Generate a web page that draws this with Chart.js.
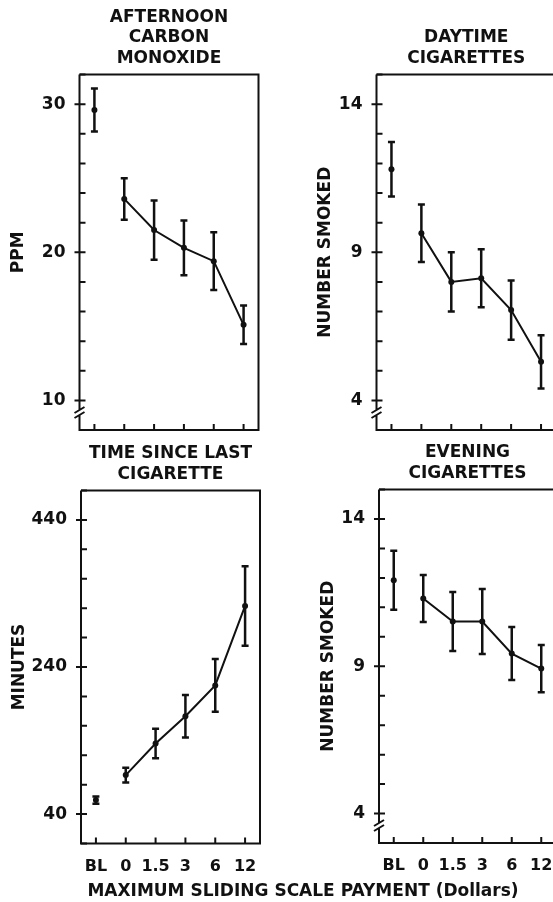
<!DOCTYPE html>
<html>
<head>
<meta charset="utf-8">
<script src="https://cdn.jsdelivr.net/npm/chart.js@4.4.0/dist/chart.umd.min.js"></script>
<style>
  html, body { margin: 0; padding: 0; background: #fff; overflow: hidden; }
  #page { position: relative; width: 553px; height: 902px; overflow: hidden; }
  canvas { position: absolute; }
  #xtitle {
    position: absolute; left: 303px; top: 880px; transform: translateX(-50%);
    font: bold 17px "DejaVu Sans", sans-serif; line-height: 20px;
    white-space: nowrap; color: #111;
  }
</style>
</head>
<body>
<div id="page">
  <canvas id="time" width="276" height="462" style="left:0;top:440px"></canvas>
  <canvas id="eve" width="284" height="462" style="left:276px;top:440px"></canvas>
  <canvas id="co" width="276" height="456" style="left:0;top:0"></canvas>
  <canvas id="day" width="284" height="456" style="left:276px;top:0"></canvas>
  <div id="xtitle">MAXIMUM SLIDING SCALE PAYMENT (Dollars)</div>
</div>
<script>
// --- data (BL = baseline, then max sliding-scale payment in dollars) ---
const doseLabels = ['BL', '0', '1.5', '3', '6', '12'];

const coMean = [29.6, 23.6, 21.5, 20.3, 19.4, 15.1];
const coErr  = [1.45, 1.4, 2.0, 1.85, 1.95, 1.3];
const coTickLabels = [10, 20, 30];

const dayMean = [11.8, 9.64, 8.0, 8.12, 7.05, 5.3];
const dayErr  = [0.92, 0.97, 1.0, 0.98, 1.0, 0.9];

const timeMean = [59, 93, 136, 173, 215, 323];
const timeErr  = [5, 10, 20, 29, 36, 54];
const timeTickLabels = [40, 240, 440];

const eveMean = [11.92, 11.3, 10.52, 10.52, 9.43, 8.92];
const eveErr  = [1.0, 0.8, 1.0, 1.1, 0.9, 0.8];
const cigTickLabels = [4, 9, 14];

const INK = '#111';
const FAMILY = '"DejaVu Sans", sans-serif';

// error bars drawn from the y scale
const errorBars = {
    id: 'errorBars',
    afterDatasetsDraw(chart) {
        const {ctx, scales: {x, y}} = chart;
        ctx.save();
        ctx.strokeStyle = INK;
        ctx.lineWidth = 2.5;
        chart.data.datasets.forEach(ds => {
            ds.data.forEach((v, i) => {
                if (v == null) return;
                const px = x.getPixelForValue(i);
                const hi = y.getPixelForValue(v + ds.errors[i]);
                const lo = y.getPixelForValue(v - ds.errors[i]);
                ctx.beginPath();
                ctx.moveTo(px, hi); ctx.lineTo(px, lo);
                ctx.moveTo(px - 3.5, hi); ctx.lineTo(px + 3.5, hi);
                ctx.moveTo(px - 3.5, lo); ctx.lineTo(px + 3.5, lo);
                ctx.stroke();
            });
        });
        ctx.restore();
    }
};

// frame, inside ticks, axis break and panel title
function framePlugin(p) {
    return {
        id: 'frame',
        afterDraw(chart) {
            const {ctx, chartArea: a, scales: {x, y}} = chart;
            ctx.save();
            ctx.strokeStyle = INK;
            ctx.fillStyle = INK;
            ctx.lineWidth = 2;

            ctx.beginPath();
            y.ticks.forEach(t => {
                const py = y.getPixelForValue(t.value);
                const major = p.labelled.includes(t.value);
                ctx.moveTo(a.left - (major ? 5 : 0), py);
                ctx.lineTo(a.left + 6, py);
            });
            doseLabels.forEach((_, i) => {
                const px = x.getPixelForValue(i);
                ctx.moveTo(px, a.bottom);
                ctx.lineTo(px, a.bottom - 6);
            });
            ctx.stroke();

            ctx.beginPath();
            ctx.moveTo(a.left, a.top);
            ctx.lineTo(a.right, a.top);
            ctx.lineTo(a.right, a.bottom);
            ctx.lineTo(a.left, a.bottom);
            if (p.brk) {
                const by = a.bottom - 18;
                ctx.lineTo(a.left, by + 3);
                ctx.moveTo(a.left, by - 2);
                ctx.lineTo(a.left, a.top);
                ctx.moveTo(a.left - 5, by + 1); ctx.lineTo(a.left + 5, by - 5);
                ctx.moveTo(a.left - 5, by + 6); ctx.lineTo(a.left + 5, by);
            } else {
                ctx.lineTo(a.left, a.top);
            }
            ctx.stroke();

            ctx.font = `bold 17px ${FAMILY}`;
            ctx.textAlign = 'center';
            ctx.textBaseline = 'middle';
            const cx = (a.left + a.right) / 2;
            p.title.forEach((line, i) => {
                ctx.fillText(line, cx, a.top - 16 - (p.title.length - 1 - i) * 20.5);
            });
            ctx.restore();
        }
    };
}

function makePanel(id, p) {
    const base = p.mean.map((v, i) => i === 0 ? v : null);
    const paid = p.mean.map((v, i) => i === 0 ? null : v);
    const style = {
        borderColor: INK, borderWidth: 2, tension: 0,
        pointRadius: 3, pointBackgroundColor: INK, pointBorderWidth: 0,
        errors: p.err
    };
    return new Chart(document.getElementById(id), {
        type: 'line',
        data: {
            labels: doseLabels,
            datasets: [
                Object.assign({data: base, showLine: false}, style),
                Object.assign({data: paid}, style)
            ]
        },
        options: {
            responsive: false,
            animation: false,
            layout: {padding: {left: 0, top: p.padTop, right: p.padRight, bottom: p.padBottom}},
            plugins: {legend: {display: false}, tooltip: {enabled: false}},
            scales: {
                x: {
                    type: 'category',
                    offset: true,
                    grid: {display: false},
                    border: {display: false},
                    ticks: {
                        display: p.showX,
                        autoSkip: false,
                        maxRotation: 0,
                        minRotation: 0,
                        padding: 5.4,
                        color: INK,
                        font: {family: FAMILY, size: 16, weight: 'bold'}
                    },
                    afterFit: s => { s.height = p.xHeight; }
                },
                y: {
                    min: p.min,
                    max: p.max,
                    grid: {display: false},
                    border: {display: false},
                    ticks: {
                        stepSize: p.step,
                        autoSkip: false,
                        padding: 6,
                        color: INK,
                        font: {family: FAMILY, size: 17, weight: 'bold'},
                        callback: v => p.labelled.includes(v) ? String(v) : ''
                    },
                    title: {
                        display: true,
                        text: p.yTitle,
                        color: INK,
                        font: {family: FAMILY, size: 17, weight: 'bold'},
                        padding: {top: p.titlePad, bottom: 0}
                    },
                    afterFit: s => { s.width = p.yWidth; }
                }
            }
        },
        plugins: [errorBars, framePlugin(p)]
    });
}

makePanel('co', {
    mean: coMean, err: coErr, labelled: coTickLabels,
    min: 8, max: 32, step: 2, brk: true,
    title: ['AFTERNOON', 'CARBON', 'MONOXIDE'], yTitle: 'PPM',
    yWidth: 79.5, padTop: 74.5, padRight: 17.5, padBottom: 16, xHeight: 10,
    titlePad: 8.4, showX: false
});

makePanel('day', {
    mean: dayMean, err: dayErr, labelled: cigTickLabels,
    min: 3, max: 15, step: 1, brk: true,
    title: ['DAYTIME', 'CIGARETTES'], yTitle: 'NUMBER SMOKED',
    yWidth: 100.5, padTop: 74.5, padRight: 2.2, padBottom: 16, xHeight: 10,
    titlePad: 39.4, showX: false
});

makePanel('time', {
    mean: timeMean, err: timeErr, labelled: timeTickLabels,
    min: 0, max: 480, step: 40, brk: false,
    title: ['TIME SINCE LAST', 'CIGARETTE'], yTitle: 'MINUTES',
    yWidth: 81, padTop: 50.5, padRight: 16, padBottom: 28.5, xHeight: 30,
    titlePad: 9.4, showX: true
});

makePanel('eve', {
    mean: eveMean, err: eveErr, labelled: cigTickLabels,
    min: 3, max: 15, step: 1, brk: true,
    title: ['EVENING', 'CIGARETTES'], yTitle: 'NUMBER SMOKED',
    yWidth: 103, padTop: 49.5, padRight: 4, padBottom: 29, xHeight: 30,
    titlePad: 42.4, showX: true
});
</script>
</body>
</html>
